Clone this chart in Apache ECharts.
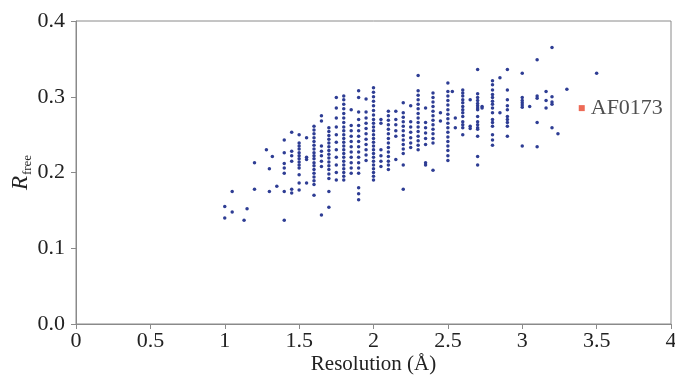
<!DOCTYPE html>
<html>
<head>
<meta charset="utf-8">
<script src="https://cdn.jsdelivr.net/npm/echarts@6/dist/echarts.min.js"></script>
<style>html,body{margin:0;padding:0;background:#fff}#c{width:675px;height:382px}</style>
</head>
<body>
<div id="c"></div>
<script>
// Resolution (Å) of each column of structures
const resolutions = [1.0, 1.05, 1.13, 1.15, 1.2, 1.28, 1.3, 1.32, 1.35, 1.4, 1.45, 1.5, 1.55, 1.6, 1.65, 1.7, 1.75, 1.8, 1.85, 1.9, 1.95, 2.0, 2.05, 2.1, 2.15, 2.2, 2.25, 2.3, 2.35, 2.4, 2.45, 2.5, 2.53, 2.55, 2.6, 2.65, 2.7, 2.73, 2.8, 2.85, 2.9, 3.0, 3.05, 3.1, 3.16, 3.2, 3.24, 3.3, 3.5];
// R_free values of the structures in each column (same order as resolutions)
const rfreeValues = [
  [0.155, 0.14],
  [0.175, 0.148],
  [0.137],
  [0.152],
  [0.213, 0.178],
  [0.23],
  [0.205, 0.175],
  [0.221],
  [0.182],
  [0.243, 0.226, 0.212, 0.206, 0.199, 0.175, 0.137],
  [0.253, 0.228, 0.222, 0.215, 0.178, 0.173],
  [0.25, 0.239, 0.235, 0.231, 0.226, 0.222, 0.218, 0.214, 0.21, 0.206, 0.197, 0.186, 0.177],
  [0.246, 0.22, 0.217, 0.186],
  [0.261, 0.256, 0.251, 0.246, 0.241, 0.236, 0.231, 0.226, 0.222, 0.218, 0.213, 0.209, 0.204, 0.199, 0.194, 0.189, 0.184, 0.17],
  [0.275, 0.268, 0.235, 0.228, 0.222, 0.215, 0.208, 0.144],
  [0.259, 0.254, 0.249, 0.244, 0.239, 0.234, 0.229, 0.224, 0.219, 0.214, 0.209, 0.204, 0.198, 0.192, 0.175, 0.154],
  [0.299, 0.285, 0.272, 0.26, 0.25, 0.24, 0.23, 0.22, 0.21, 0.2, 0.19],
  [0.301, 0.296, 0.29, 0.284, 0.278, 0.272, 0.266, 0.26, 0.255, 0.25, 0.245, 0.24, 0.235, 0.23, 0.225, 0.22, 0.215, 0.21, 0.205, 0.2, 0.195, 0.19],
  [0.283, 0.262, 0.255, 0.248, 0.241, 0.234, 0.227, 0.22, 0.213, 0.206, 0.199],
  [0.308, 0.299, 0.28, 0.27, 0.262, 0.255, 0.248, 0.241, 0.234, 0.227, 0.22, 0.213, 0.206, 0.199, 0.18, 0.172, 0.164],
  [0.297, 0.28, 0.272, 0.265, 0.258, 0.251, 0.244, 0.237, 0.23, 0.223, 0.216],
  [0.312, 0.306, 0.3, 0.294, 0.288, 0.282, 0.276, 0.27, 0.265, 0.26, 0.255, 0.25, 0.245, 0.24, 0.235, 0.23, 0.225, 0.22, 0.215, 0.21, 0.205, 0.2, 0.195, 0.19],
  [0.27, 0.265, 0.23, 0.222, 0.215, 0.208],
  [0.281, 0.275, 0.269, 0.263, 0.257, 0.251, 0.245, 0.239, 0.233, 0.227, 0.221, 0.215, 0.21, 0.204],
  [0.281, 0.27, 0.263, 0.255, 0.248, 0.217],
  [0.292, 0.279, 0.273, 0.267, 0.261, 0.255, 0.249, 0.243, 0.237, 0.231, 0.225, 0.21, 0.178],
  [0.288, 0.267, 0.26, 0.253, 0.246, 0.239, 0.233],
  [0.328, 0.308, 0.302, 0.296, 0.29, 0.284, 0.278, 0.272, 0.266, 0.26, 0.254, 0.248, 0.242, 0.236, 0.23],
  [0.285, 0.266, 0.259, 0.252, 0.245, 0.237, 0.213, 0.21],
  [0.305, 0.299, 0.293, 0.287, 0.281, 0.275, 0.269, 0.263, 0.257, 0.251, 0.245, 0.239, 0.203],
  [0.279, 0.268],
  [0.318, 0.307, 0.301, 0.295, 0.289, 0.283, 0.277, 0.271, 0.265, 0.259, 0.253, 0.247, 0.241, 0.235, 0.229, 0.222, 0.216],
  [0.307],
  [0.272, 0.259],
  [0.309, 0.305, 0.301, 0.296, 0.292, 0.287, 0.283, 0.279, 0.274, 0.267, 0.263, 0.259, 0.25],
  [0.296, 0.261, 0.258],
  [0.336, 0.304, 0.299, 0.295, 0.291, 0.288, 0.285, 0.283, 0.274, 0.267, 0.263, 0.259, 0.257, 0.248, 0.221, 0.21],
  [0.287, 0.285],
  [0.321, 0.316, 0.309, 0.303, 0.299, 0.294, 0.29, 0.285, 0.279, 0.27, 0.266, 0.261, 0.25, 0.243, 0.236],
  [0.325, 0.279],
  [0.336, 0.309, 0.296, 0.288, 0.283, 0.274, 0.27, 0.266, 0.261, 0.248],
  [0.331, 0.299, 0.295, 0.292, 0.289, 0.286, 0.235],
  [0.287],
  [0.349, 0.301, 0.298, 0.266, 0.234],
  [0.307, 0.295, 0.285],
  [0.365, 0.3, 0.293, 0.29, 0.259],
  [0.251],
  [0.31],
  [0.331]
];
// Highlighted structure
const highlightName = 'AF0173';
const highlightPoint = [3.4, 0.285];
// Axis ranges / ticks
const xTicks = [0, 4, 0.5];
const yTicks = [0, 0.4, 0.1];

const pts = [];
resolutions.forEach((r, i) => rfreeValues[i].forEach(v => pts.push([r, v])));

const FONT = 'Liberation Serif';
const AX = '#8a8a8a';
const chart = echarts.init(document.getElementById('c'), null, {renderer: 'canvas'});
chart.setOption({
  animation: false,
  backgroundColor: '#fff',
  grid: {left: 76, right: 4, top: 21, bottom: 58, show: true, borderColor: AX, borderWidth: 1, containLabel: false, outerBoundsMode: 'none'},
  xAxis: {
    type: 'value', min: xTicks[0], max: xTicks[1], interval: xTicks[2],
    name: 'Resolution (Å)', nameLocation: 'middle', nameGap: 30, nameMoveOverlap: false,
    nameTextStyle: {fontFamily: FONT, fontSize: 21, color: '#222'},
    axisLine: {show: true, lineStyle: {color: AX, width: 1}},
    axisTick: {show: true, inside: false, length: 5, lineStyle: {color: AX}},
    axisLabel: {fontFamily: FONT, fontSize: 22, color: '#222', margin: 6, formatter: v => String(+v.toFixed(1))},
    splitLine: {show: false}
  },
  yAxis: {
    type: 'value', min: yTicks[0], max: yTicks[1], interval: yTicks[2],
    name: '{a|R}{b|free}', nameLocation: 'middle', nameGap: 44, nameRotate: 90, nameMoveOverlap: false,
    nameTextStyle: {
      fontFamily: FONT, color: '#222',
      rich: {
        a: {fontFamily: FONT, fontSize: 23, fontStyle: 'italic', color: '#222', lineHeight: 23, verticalAlign: 'top'},
        b: {fontFamily: FONT, fontSize: 13, color: '#222', lineHeight: 13, padding: [12, 0, 0, 1], verticalAlign: 'top'}
      }
    },
    axisLine: {show: true, lineStyle: {color: AX, width: 1}},
    axisTick: {show: true, inside: false, length: 5, lineStyle: {color: AX}},
    axisLabel: {fontFamily: FONT, fontSize: 22, color: '#222', margin: 11, formatter: v => v.toFixed(1)},
    splitLine: {show: false}
  },
  series: [
    {
      type: 'scatter', data: pts, symbol: 'circle', symbolSize: 3.5,
      itemStyle: {color: '#2e3d94', opacity: 1}
    },
    {
      type: 'scatter', data: [highlightPoint], symbol: 'rect', symbolSize: 6,
      itemStyle: {color: '#e8452c'},
      label: {show: true, position: 'right', distance: 6, formatter: highlightName, fontFamily: FONT, fontSize: 22, color: '#222'}
    }
  ]
});
</script>
</body>
</html>
